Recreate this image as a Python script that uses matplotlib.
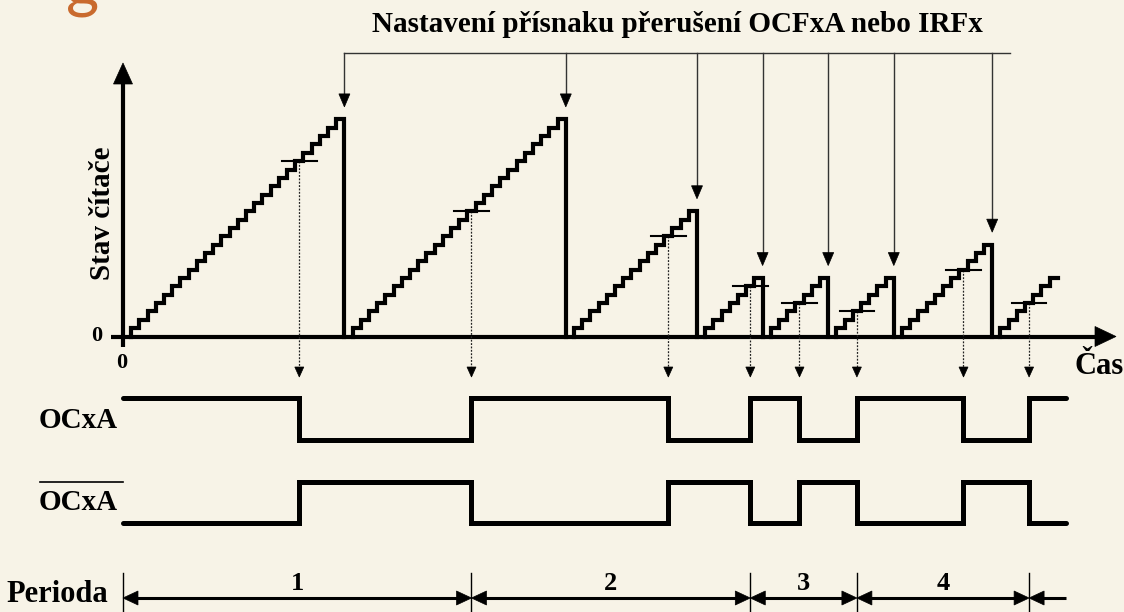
import numpy as np
import matplotlib
matplotlib.use('Agg')
import matplotlib.pyplot as plt
from matplotlib.patches import Polygon

# ---------------- data ----------------
cycle_tops = [26, 26, 15, 7, 7, 7, 11]        # TOP value of each complete counter cycle
last_cycle_steps = 7                          # steps shown of the last (unfinished) cycle
compare_values = [21, 15, 12, 6, 4, 3, 8, 4]  # compare value within each cycle
period_labels = ['1', '2', '3', '4']
signal_end = 115                              # time (ticks) where output traces end
title_text = 'Nastavení přísnaku přerušení OCFxA nebo IRFx'
y_label = 'Stav čítače'
x_label = 'Čas'
sig_labels = ['OCxA', 'OCxA']
period_title = 'Perioda'

# ---------------- layout / style ----------------
W, H = 1124, 612
BG = '#f7f3e7'
X0, UX, Y0, UY = 123.0, 8.2, 336.5, 8.35
FONT = 'Liberation Serif'


def ypx(p):
    return (Y0 - p) / UY


def xpx(p):
    return (p - X0) / UX


fig = plt.figure(figsize=(W / 100, H / 100), dpi=100)
fig.patch.set_facecolor(BG)
ax = fig.add_axes([0, 0, 1, 1])
ax.set_xlim(xpx(0), xpx(W))
ax.set_ylim(ypx(H), ypx(0))
ax.axis('off')
lay = fig.add_axes([0, 0, 1, 1])
lay.set_xlim(0, W)
lay.set_ylim(H, 0)
lay.axis('off')
lay.patch.set_visible(False)


def head(x, y, dx, dy, L, Wd, color='k'):
    tip = np.array([x * UX, y * UY])
    d = np.array([dx, dy], float)
    d /= np.hypot(*d)
    n = np.array([-d[1], d[0]])
    base = tip - d * L
    pts = [tip, base + n * Wd / 2, base - n * Wd / 2]
    pts = [(p[0] / UX, p[1] / UY) for p in pts]
    ax.add_patch(Polygon(pts, closed=True, facecolor=color, edgecolor=color, lw=0.5, zorder=5))


# ---------------- axes with arrows ----------------
ax.plot([0, 0], [ypx(347), ypx(80)], color='k', lw=3, solid_capstyle='butt')
head(0, ypx(63), 0, 1, 21, 19)
ax.plot([xpx(111), xpx(1098)], [0, 0], color='k', lw=3, solid_capstyle='butt')
head(xpx(1116), 0, 1, 0, 21, 20)

# ---------------- counter staircases ----------------
starts = np.concatenate([[0], np.cumsum(np.array(cycle_tops) + 1)])
for i, top in enumerate(cycle_tops):
    s = starts[i]
    xs = np.concatenate([[s + 1], s + np.arange(1, top + 2)])
    ys = np.concatenate([[0], np.arange(1, top + 1), [0]])
    ax.step(xs, ys, where='post', color='k', lw=3, solid_joinstyle='miter', zorder=4)
s = starts[len(cycle_tops)]
xs = np.concatenate([[s + 1], s + np.arange(1, last_cycle_steps + 2)])
ys = np.concatenate([[0], np.arange(1, last_cycle_steps + 1), [last_cycle_steps]])
ax.step(xs, ys, where='post', color='k', lw=3, solid_joinstyle='miter', zorder=4)

# ---------------- compare marks and dotted arrows ----------------
tcs = np.array([starts[i] + c + 0.5 for i, c in enumerate(compare_values)])
for tc, c in zip(tcs, compare_values):
    ax.plot([tc - 2.1, tc + 2.1], [c, c], color='k', lw=1.5, zorder=5)
    ax.plot([tc, tc], [c, ypx(367)], color='#222', lw=0.9, ls=(0, (1.5, 1.2)), zorder=3)
    head(tc, ypx(377), 0, -1, 10, 9)

# ---------------- interrupt-flag arrows ----------------
drops = [starts[i] + t + 1 for i, t in enumerate(cycle_tops)]
yline = ypx(53)
ax.plot([drops[0], drops[-1] + 2.2], [yline, yline], color='#333', lw=1.0)
for d, t in zip(drops, cycle_tops):
    tip = t + 12.5 / UY
    ax.plot([d, d], [yline, tip + 10 / UY], color='#333', lw=1.0)
    head(d, tip, 0, -1, 13, 11)

# ---------------- output signals ----------------
levels_hi, levels_lo = ypx(398), ypx(440)
nlev_hi, nlev_lo = ypx(482), ypx(523)
state = [(k + 1) % 2 for k in range(len(tcs) + 1)]  # 1 = high at start, toggles
xs = np.concatenate([[0], tcs, [signal_end]])
st = np.array(state + [state[-1]])
oc = np.where(st == 1, levels_hi, levels_lo)
ocn = np.where(st == 1, nlev_lo, nlev_hi)
for yy in (oc, ocn):
    ax.step(xs, yy, where='post', color='k', lw=3.6, solid_capstyle='round',
            solid_joinstyle='miter', zorder=4)

# ---------------- periods ----------------
bounds = np.concatenate([[0], tcs[1::2]])
yper = ypx(598)
for b in bounds:
    ax.plot([b, b], [ypx(573), ypx(615)], color='k', lw=1.0)
for a, b, lab in zip(bounds[:-1], bounds[1:], period_labels):
    ax.plot([a + 1.2, b - 1.2], [yper, yper], color='k', lw=2.2, solid_capstyle='butt')
    head(a, yper, -1, 0, 15, 14)
    head(b, yper, 1, 0, 15, 14)
    lay.text((a + b) / 2 * UX + X0, 583, lab, ha='center', va='center', fontsize=19,
             fontweight='bold', family=FONT)
ax.plot([bounds[-1] + 1.2, signal_end], [yper, yper], color='k', lw=2.2, solid_capstyle='butt')
head(bounds[-1], yper, -1, 0, 15, 14)

# ---------------- texts ----------------
tk = dict(fontweight='bold', family=FONT, color='k')
lay.text(677, 25, title_text, ha='center', va='center', fontsize=21, **tk)
lay.text(103, 213, y_label, ha='center', va='center', rotation=90, fontsize=21, **tk)
lay.text(97, 336, '0', ha='center', va='center', fontsize=16, **tk)
lay.text(122, 363, '0', ha='center', va='center', fontsize=16, **tk)
lay.text(1074, 367, x_label, ha='left', va='center', fontsize=22, **tk)
lay.text(118, 420, sig_labels[0], ha='right', va='center', fontsize=21, **tk)
lay.text(118, 503, sig_labels[1], ha='right', va='center', fontsize=21, **tk)
lay.plot([40, 123], [482, 482], color='k', lw=1.2)
lay.text(108, 594, period_title, ha='right', va='center', fontsize=22, **tk)
lay.text(83, 6, 'g', ha='center', va='baseline', fontsize=46, color='#c96a2e',
         family='Lato', clip_on=True)

fig.savefig('out.png', dpi=100, facecolor=BG)
